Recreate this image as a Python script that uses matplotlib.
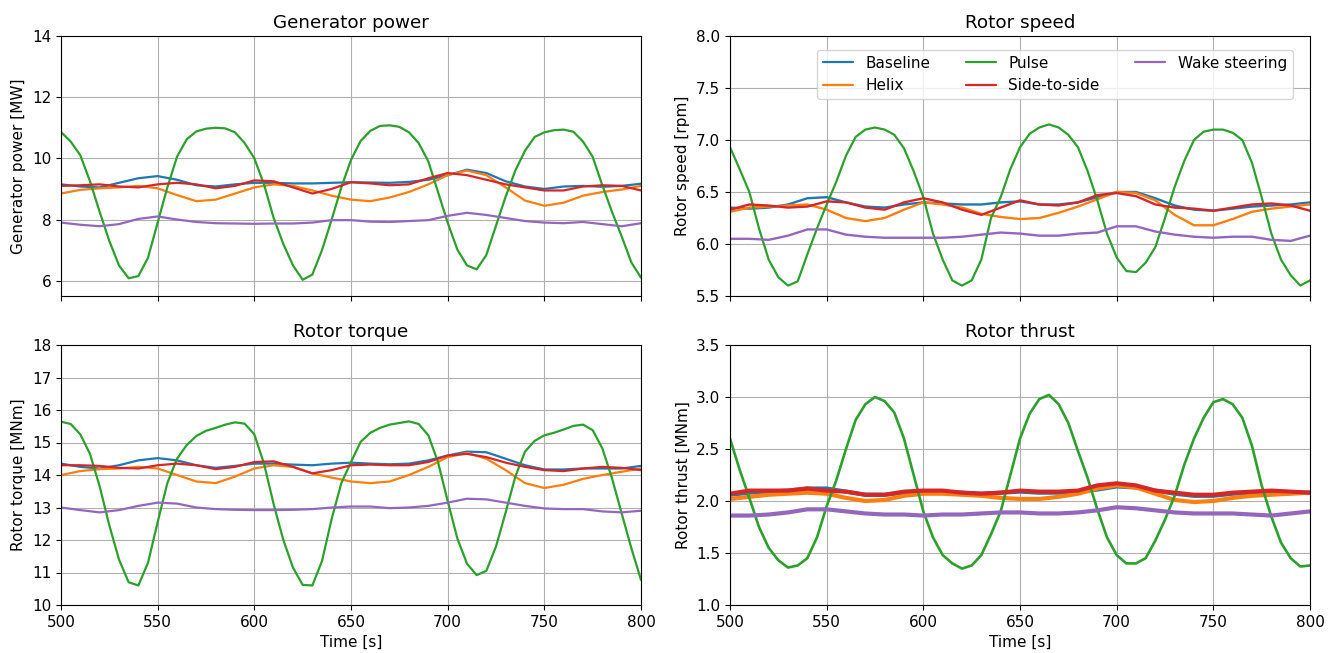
import numpy as np
import matplotlib
matplotlib.use("Agg")
import matplotlib.pyplot as plt

plt.rcParams['font.family'] = ['DejaVu Sans']
plt.rcParams['font.size'] = 11

# Time axes
t_coarse = np.arange(500, 801, 10)   # 31 points
t_fine = np.arange(500, 801, 5)      # 61 points

labels = ["Baseline", "Helix", "Pulse", "Side-to-side", "Wake steering"]
colors = ["#1f77b4", "#ff7f0e", "#2ca02c", "#d62728", "#9467bd"]

# ---------------- Generator power [MW] ----------------
power_baseline = [9.15, 9.08, 9.05, 9.2, 9.35, 9.42, 9.3, 9.12, 9.08, 9.15, 9.2, 9.2, 9.18, 9.18, 9.2, 9.22,
                  9.21, 9.2, 9.23, 9.3, 9.45, 9.63, 9.52, 9.25, 9.08, 9.0, 9.08, 9.1, 9.07, 9.1, 9.17]
power_helix = [8.85, 8.97, 9.02, 9.05, 9.1, 9.02, 8.8, 8.6, 8.65, 8.85, 9.05, 9.15, 9.1, 8.95, 8.78, 8.65,
               8.6, 8.72, 8.9, 9.15, 9.45, 9.6, 9.45, 9.05, 8.62, 8.45, 8.55, 8.78, 8.9, 8.98, 9.1]
power_pulse = [10.86, 10.55, 10.1, 9.25, 8.25, 7.3, 6.5, 6.08, 6.15, 6.75, 7.9, 9.05, 10.05, 10.62, 10.88,
               10.97, 11.0, 10.98, 10.85, 10.5, 10.0, 9.15, 8.05, 7.2, 6.5, 6.03, 6.2, 7.0, 8.0, 9.05, 9.95,
               10.57, 10.9, 11.06, 11.08, 11.03, 10.85, 10.5, 9.9, 8.9, 7.9, 7.02, 6.5, 6.37, 6.84, 7.8,
               8.75, 9.6, 10.25, 10.7, 10.85, 10.92, 10.94, 10.87, 10.55, 10.05, 9.12, 8.25, 7.45, 6.6, 6.1]
power_side = [9.1, 9.12, 9.15, 9.08, 9.05, 9.15, 9.2, 9.15, 9.02, 9.1, 9.28, 9.25, 9.05, 8.85, 9.0, 9.22,
              9.18, 9.12, 9.15, 9.35, 9.52, 9.45, 9.3, 9.15, 9.05, 8.95, 8.95, 9.08, 9.12, 9.1, 8.95]
power_wake = [7.9, 7.83, 7.78, 7.85, 8.02, 8.1, 8.0, 7.92, 7.88, 7.87, 7.86, 7.87, 7.87, 7.9, 7.98, 7.98,
              7.93, 7.92, 7.95, 7.98, 8.12, 8.22, 8.15, 8.05, 7.95, 7.9, 7.88, 7.92, 7.85, 7.78, 7.88]

# ---------------- Rotor speed [rpm] ----------------
speed_baseline = [6.35, 6.34, 6.35, 6.38, 6.44, 6.45, 6.4, 6.36, 6.35, 6.38, 6.4, 6.39, 6.38, 6.38, 6.4, 6.41,
                  6.38, 6.38, 6.4, 6.45, 6.5, 6.5, 6.44, 6.37, 6.33, 6.32, 6.34, 6.36, 6.37, 6.38, 6.4]
speed_helix = [6.31, 6.35, 6.36, 6.37, 6.38, 6.33, 6.25, 6.22, 6.25, 6.33, 6.4, 6.38, 6.35, 6.29, 6.26, 6.24,
               6.25, 6.3, 6.36, 6.43, 6.5, 6.49, 6.42, 6.28, 6.18, 6.18, 6.24, 6.31, 6.34, 6.36, 6.38]
speed_pulse = [6.93, 6.72, 6.5, 6.15, 5.85, 5.68, 5.6, 5.64, 5.9, 6.15, 6.38, 6.6, 6.85, 7.03, 7.1, 7.12,
               7.1, 7.05, 6.92, 6.7, 6.45, 6.1, 5.85, 5.65, 5.6, 5.65, 5.85, 6.25, 6.45, 6.72, 6.93, 7.06,
               7.12, 7.15, 7.12, 7.05, 6.93, 6.7, 6.42, 6.1, 5.87, 5.74, 5.73, 5.82, 5.97, 6.25, 6.55, 6.8,
               7.0, 7.08, 7.1, 7.1, 7.07, 7.0, 6.78, 6.45, 6.1, 5.85, 5.7, 5.6, 5.65]
speed_side = [6.33, 6.38, 6.37, 6.35, 6.36, 6.41, 6.4, 6.35, 6.33, 6.4, 6.44, 6.4, 6.33, 6.28, 6.35, 6.42,
              6.38, 6.37, 6.4, 6.47, 6.49, 6.46, 6.38, 6.35, 6.34, 6.32, 6.35, 6.38, 6.39, 6.37, 6.32]
speed_wake = [6.05, 6.05, 6.04, 6.08, 6.14, 6.14, 6.09, 6.07, 6.06, 6.06, 6.06, 6.06, 6.07, 6.09, 6.11, 6.1,
              6.08, 6.08, 6.1, 6.11, 6.17, 6.17, 6.12, 6.09, 6.07, 6.06, 6.07, 6.07, 6.04, 6.03, 6.08]

# ---------------- Rotor torque [MNm] ----------------
torque_baseline = [14.35, 14.25, 14.2, 14.3, 14.45, 14.52, 14.45, 14.3, 14.22, 14.28, 14.35, 14.35, 14.32,
                   14.3, 14.35, 14.38, 14.35, 14.33, 14.35, 14.45, 14.6, 14.72, 14.7, 14.5, 14.3, 14.17,
                   14.17, 14.2, 14.2, 14.2, 14.28]
torque_helix = [14.0, 14.12, 14.18, 14.2, 14.25, 14.2, 14.0, 13.8, 13.75, 13.95, 14.2, 14.3, 14.25, 14.05,
                13.92, 13.8, 13.75, 13.8, 14.0, 14.25, 14.55, 14.68, 14.5, 14.15, 13.75, 13.6, 13.7, 13.88,
                14.0, 14.1, 14.2]
torque_pulse = [15.64, 15.57, 15.25, 14.65, 13.65, 12.45, 11.4, 10.7, 10.6, 11.3, 12.55, 13.75, 14.5, 14.92,
                15.2, 15.36, 15.45, 15.55, 15.62, 15.58, 15.25, 14.35, 13.1, 12.0, 11.15, 10.62, 10.6, 11.35,
                12.65, 13.75, 14.4, 15.02, 15.3, 15.45, 15.55, 15.6, 15.65, 15.57, 15.22, 14.4, 13.2, 12.05,
                11.27, 10.92, 11.05, 11.8, 12.85, 13.95, 14.72, 15.05, 15.22, 15.3, 15.4, 15.51, 15.55,
                15.38, 14.82, 13.9, 12.82, 11.75, 10.77]
torque_side = [14.3, 14.3, 14.28, 14.22, 14.2, 14.3, 14.35, 14.3, 14.18, 14.25, 14.4, 14.42, 14.25, 14.05,
               14.15, 14.3, 14.32, 14.3, 14.3, 14.4, 14.6, 14.65, 14.55, 14.38, 14.25, 14.15, 14.12, 14.2,
               14.25, 14.22, 14.15]
torque_wake = [13.0, 12.92, 12.85, 12.92, 13.05, 13.15, 13.12, 13.0, 12.95, 12.93, 12.92, 12.92, 12.93,
               12.95, 13.0, 13.03, 13.03, 12.98, 13.0, 13.05, 13.15, 13.27, 13.25, 13.15, 13.05, 12.97,
               12.95, 12.95, 12.88, 12.85, 12.9]

# ---------------- Rotor thrust [MNm] ----------------
thrust_baseline = [2.06, 2.08, 2.09, 2.1, 2.12, 2.12, 2.09, 2.06, 2.06, 2.08, 2.08, 2.08, 2.08, 2.07, 2.08,
                   2.09, 2.08, 2.08, 2.09, 2.11, 2.14, 2.13, 2.1, 2.07, 2.05, 2.05, 2.07, 2.08, 2.08, 2.08, 2.08]
thrust_helix = [2.02, 2.04, 2.06, 2.07, 2.08, 2.07, 2.03, 2.0, 2.01, 2.05, 2.07, 2.07, 2.06, 2.05, 2.03,
                2.02, 2.02, 2.04, 2.07, 2.12, 2.15, 2.13, 2.07, 2.01, 1.99, 2.0, 2.03, 2.05, 2.06, 2.07, 2.08]
thrust_pulse = [2.6, 2.3, 2.03, 1.75, 1.55, 1.43, 1.36, 1.38, 1.45, 1.65, 1.95, 2.2, 2.5, 2.78, 2.93, 3.0,
                2.96, 2.85, 2.6, 2.25, 1.9, 1.65, 1.48, 1.4, 1.35, 1.38, 1.48, 1.68, 1.9, 2.25, 2.6, 2.84,
                2.98, 3.02, 2.93, 2.75, 2.48, 2.22, 1.92, 1.65, 1.48, 1.4, 1.4, 1.45, 1.62, 1.82, 2.05, 2.35,
                2.6, 2.8, 2.95, 2.98, 2.93, 2.8, 2.53, 2.15, 1.85, 1.6, 1.45, 1.37, 1.38]
thrust_side = [2.07, 2.1, 2.1, 2.1, 2.12, 2.1, 2.09, 2.06, 2.06, 2.09, 2.1, 2.1, 2.08, 2.07, 2.08, 2.1,
               2.09, 2.09, 2.1, 2.15, 2.17, 2.15, 2.1, 2.08, 2.06, 2.06, 2.08, 2.09, 2.1, 2.09, 2.08]
thrust_wake = [1.86, 1.86, 1.87, 1.89, 1.92, 1.92, 1.9, 1.88, 1.87, 1.87, 1.86, 1.87, 1.87, 1.88, 1.89,
               1.89, 1.88, 1.88, 1.89, 1.91, 1.94, 1.93, 1.91, 1.89, 1.88, 1.88, 1.88, 1.87, 1.86, 1.88, 1.9]

panels = [
    dict(title="Generator power", ylabel="Generator power [MW]", ylim=(5.5, 14), yticks=[6, 8, 10, 12, 14],
         series=[power_baseline, power_helix, power_pulse, power_side, power_wake], lw=1.6, plw=1.6, fmt="{:.0f}"),
    dict(title="Rotor speed", ylabel="Rotor speed [rpm]", ylim=(5.5, 8.0),
         yticks=[5.5, 6.0, 6.5, 7.0, 7.5, 8.0],
         series=[speed_baseline, speed_helix, speed_pulse, speed_side, speed_wake], lw=1.7, plw=1.6, fmt="{:.1f}"),
    dict(title="Rotor torque", ylabel="Rotor torque [MNm]", ylim=(10, 18), yticks=list(range(10, 19)),
         series=[torque_baseline, torque_helix, torque_pulse, torque_side, torque_wake], lw=1.6, plw=1.6, fmt="{:.0f}"),
    dict(title="Rotor thrust", ylabel="Rotor thrust [MNm]", ylim=(1.0, 3.5),
         yticks=[1.0, 1.5, 2.0, 2.5, 3.0, 3.5],
         series=[thrust_baseline, thrust_helix, thrust_pulse, thrust_side, thrust_wake], lw=3.0, plw=1.9, fmt="{:.1f}"),
]

W, H = 1338, 653
fig = plt.figure(figsize=(W / 100, H / 100), dpi=100)
boxes = [(61, 36, 641, 296), (730, 36, 1310, 296), (61, 345, 641, 605), (730, 345, 1310, 605)]

axes = []
for i, (p, (x0, y0, x1, y1)) in enumerate(zip(panels, boxes)):
    ax = fig.add_axes([x0 / W, 1 - y1 / H, (x1 - x0) / W, (y1 - y0) / H])
    axes.append(ax)
    for k, (vals, lab, col) in enumerate(zip(p["series"], labels, colors)):
        tt = t_fine if len(vals) == len(t_fine) else t_coarse
        lw = p["plw"] if k == 2 else p["lw"]
        ax.plot(tt, vals, color=col, lw=lw, label=lab, solid_joinstyle="round", solid_capstyle="round")
    ax.set_xlim(500, 800)
    ax.set_ylim(*p["ylim"])
    ax.set_yticks(p["yticks"])
    ax.set_yticklabels([p["fmt"].format(v) for v in p["yticks"]])
    ax.set_xticks([500, 550, 600, 650, 700, 750, 800])
    ax.grid(True, color="#b0b0b0", lw=0.8)
    ax.set_axisbelow(True)
    ax.set_title(p["title"], fontsize=13.2)
    ax.set_ylabel(p["ylabel"])
    if i < 2:
        ax.tick_params(labelbottom=False)
    else:
        ax.set_xlabel("Time [s]")

leg = axes[1].legend(ncol=3, loc="upper right", bbox_to_anchor=(0.9707, 0.948), borderaxespad=0,
                     columnspacing=2.3, fontsize=11)
for line in leg.get_lines():
    line.set_linewidth(1.6)

fig.savefig("out.png", dpi=100)
